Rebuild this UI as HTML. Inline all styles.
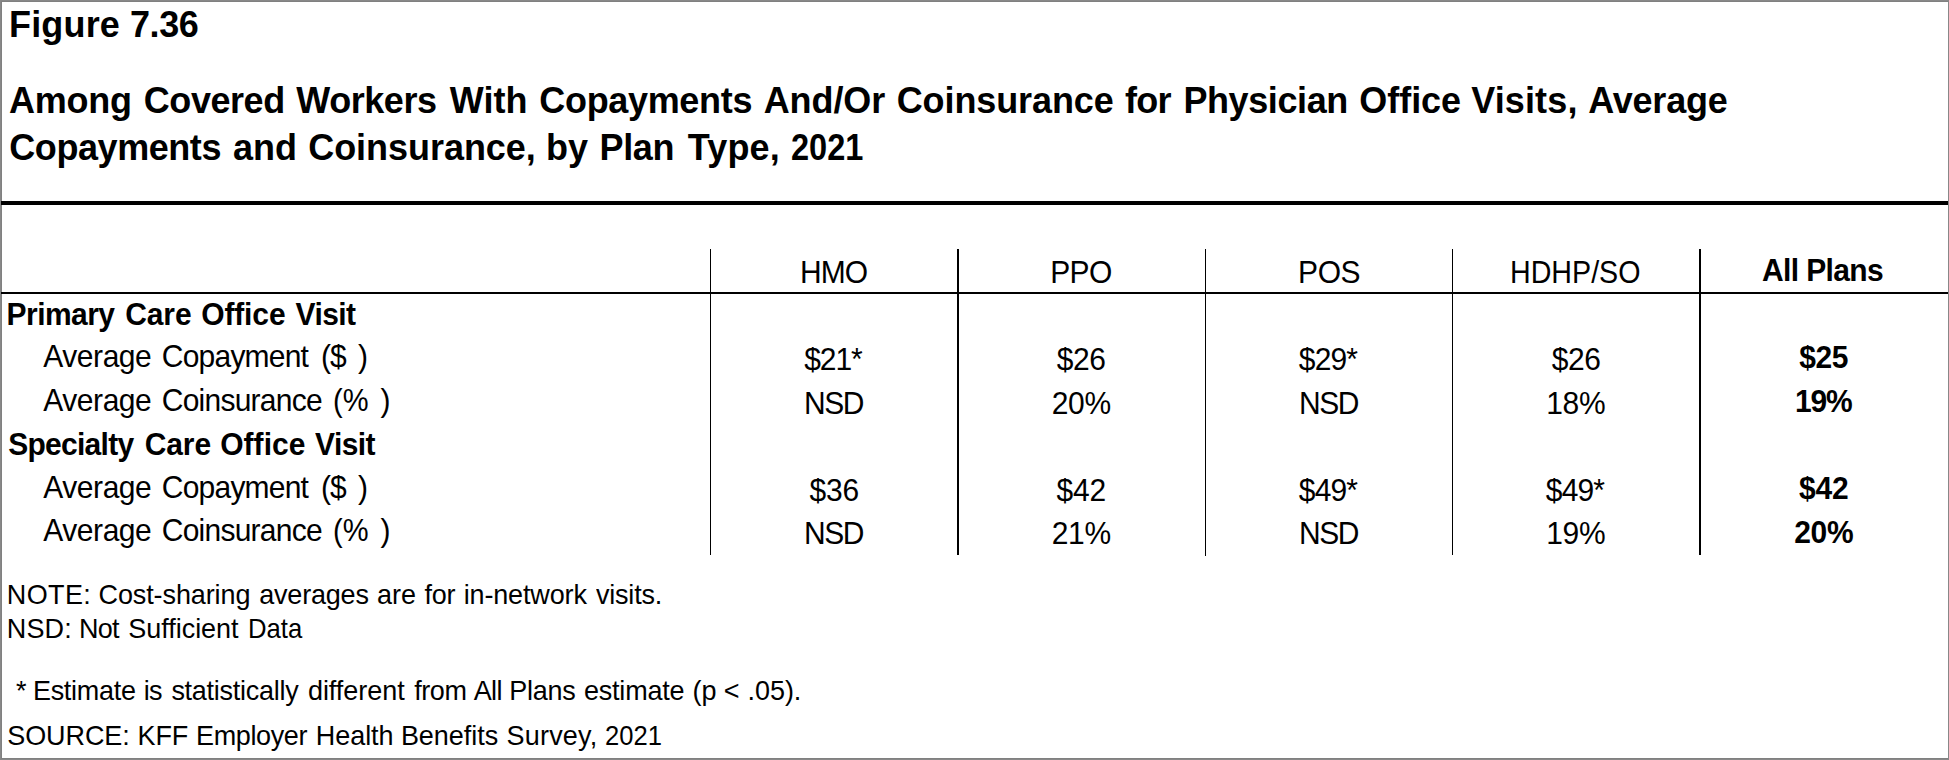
<!DOCTYPE html>
<html>
<head>
<meta charset="utf-8">
<title>Figure 7.36</title>
<style>
html,body{margin:0;padding:0;background:#fff;}
body{width:1949px;height:760px;position:relative;overflow:hidden;font-family:"Liberation Sans",sans-serif;color:#000;}
.frame{position:absolute;left:0;top:0;width:1949px;height:760px;box-sizing:border-box;border:1px solid #888888;}
.frame2{position:absolute;left:1px;top:1px;width:1947px;height:758px;box-sizing:border-box;border-style:solid;border-color:#808080;border-width:1px 0 1px 1px;}
.t{position:absolute;white-space:nowrap;line-height:1;}
.ln{position:absolute;background:#000;}
</style>
</head>
<body>
<div class="frame"></div>
<div class="frame2"></div>
<div class="t" style="font-size:36px;top:6.50px;left:9.05px;transform-origin:0 30.5px;letter-spacing:0.154px;font-weight:bold;transform:scaleY(1.05);">Figure</div>
<div class="t" style="font-size:36px;top:6.50px;left:130.00px;transform-origin:0 30.5px;letter-spacing:-0.415px;font-weight:bold;transform:scaleY(1.05);">7.36</div>
<div class="t" style="font-size:36px;top:82.50px;left:8.90px;transform-origin:0 30.5px;letter-spacing:-0.222px;font-weight:bold;transform:scaleY(1.05);">Among</div>
<div class="t" style="font-size:36px;top:82.50px;left:143.80px;transform-origin:0 30.5px;letter-spacing:-0.444px;font-weight:bold;transform:scaleY(1.05);">Covered</div>
<div class="t" style="font-size:36px;top:82.50px;left:296.30px;transform-origin:0 30.5px;letter-spacing:-0.447px;font-weight:bold;transform:scaleY(1.05);">Workers</div>
<div class="t" style="font-size:36px;top:82.50px;left:449.70px;transform-origin:0 30.5px;letter-spacing:0.083px;font-weight:bold;transform:scaleY(1.05);">With</div>
<div class="t" style="font-size:36px;top:82.50px;left:539.30px;transform-origin:0 30.5px;letter-spacing:-0.326px;font-weight:bold;transform:scaleY(1.05);">Copayments</div>
<div class="t" style="font-size:36px;top:82.50px;left:763.70px;transform-origin:0 30.5px;letter-spacing:-0.096px;font-weight:bold;transform:scaleY(1.05);">And/Or</div>
<div class="t" style="font-size:36px;top:82.50px;left:896.70px;transform-origin:0 30.5px;letter-spacing:-0.094px;font-weight:bold;transform:scaleY(1.05);">Coinsurance</div>
<div class="t" style="font-size:36px;top:82.50px;left:1125.10px;transform-origin:0 30.5px;letter-spacing:-0.839px;font-weight:bold;transform:scaleY(1.05);">for</div>
<div class="t" style="font-size:36px;top:82.50px;left:1183.40px;transform-origin:0 30.5px;letter-spacing:-0.399px;font-weight:bold;transform:scaleY(1.05);">Physician</div>
<div class="t" style="font-size:36px;top:82.50px;left:1359.30px;transform-origin:0 30.5px;letter-spacing:-0.040px;font-weight:bold;transform:scaleY(1.05);">Office</div>
<div class="t" style="font-size:36px;top:82.50px;left:1471.20px;transform-origin:0 30.5px;letter-spacing:0.134px;font-weight:bold;transform:scaleY(1.05);">Visits,</div>
<div class="t" style="font-size:36px;top:82.50px;left:1588.20px;transform-origin:0 30.5px;letter-spacing:-0.188px;font-weight:bold;transform:scaleY(1.05);">Average</div>
<div class="t" style="font-size:36px;top:129.50px;left:9.30px;transform-origin:0 30.5px;letter-spacing:-0.437px;font-weight:bold;transform:scaleY(1.05);">Copayments</div>
<div class="t" style="font-size:36px;top:129.50px;left:233.00px;transform-origin:0 30.5px;letter-spacing:0.044px;font-weight:bold;transform:scaleY(1.05);">and</div>
<div class="t" style="font-size:36px;top:129.50px;left:308.20px;transform-origin:0 30.5px;letter-spacing:-0.042px;font-weight:bold;transform:scaleY(1.05);">Coinsurance,</div>
<div class="t" style="font-size:36px;top:129.50px;left:546.10px;transform-origin:0 30.5px;letter-spacing:-0.090px;font-weight:bold;transform:scaleY(1.05);">by</div>
<div class="t" style="font-size:36px;top:129.50px;left:599.60px;transform-origin:0 30.5px;letter-spacing:-0.378px;font-weight:bold;transform:scaleY(1.05);">Plan</div>
<div class="t" style="font-size:36px;top:129.50px;left:687.80px;transform-origin:0 30.5px;letter-spacing:0.137px;font-weight:bold;transform:scaleY(1.05);">Type,</div>
<div class="t" style="font-size:36px;top:129.50px;left:791.20px;transform-origin:0 30.5px;font-weight:bold;transform:scale(0.9043,1.05);">2021</div>
<div class="t" style="font-size:30px;top:257.50px;left:799.90px;transform-origin:0 25.5px;letter-spacing:-0.878px;transform:scaleY(1.065);">HMO</div>
<div class="t" style="font-size:30px;top:257.50px;left:1050.20px;transform-origin:0 25.5px;letter-spacing:-0.660px;transform:scaleY(1.065);">PPO</div>
<div class="t" style="font-size:30px;top:257.50px;left:1298.10px;transform-origin:0 25.5px;letter-spacing:-0.422px;transform:scaleY(1.065);">POS</div>
<div class="t" style="font-size:30px;top:257.50px;left:1510.39px;transform-origin:0 25.5px;transform:scale(0.9546,1.065);">HDHP/SO</div>
<div class="t" style="font-size:30px;top:255.50px;left:1762.10px;transform-origin:0 25.5px;letter-spacing:-0.653px;font-weight:bold;transform:scaleY(1.065);">All Plans</div>
<div class="t" style="font-size:30px;top:299.50px;left:6.60px;transform-origin:0 25.5px;letter-spacing:-0.559px;font-weight:bold;transform:scaleY(1.065);">Primary</div>
<div class="t" style="font-size:30px;top:299.50px;left:125.20px;transform-origin:0 25.5px;letter-spacing:-0.108px;font-weight:bold;transform:scaleY(1.065);">Care</div>
<div class="t" style="font-size:30px;top:299.50px;left:201.20px;transform-origin:0 25.5px;letter-spacing:-0.127px;font-weight:bold;transform:scaleY(1.065);">Office</div>
<div class="t" style="font-size:30px;top:299.50px;left:295.50px;transform-origin:0 25.5px;letter-spacing:-0.556px;font-weight:bold;transform:scaleY(1.065);">Visit</div>
<div class="t" style="font-size:30px;top:429.50px;left:8.20px;transform-origin:0 25.5px;letter-spacing:-0.731px;font-weight:bold;transform:scaleY(1.065);">Specialty</div>
<div class="t" style="font-size:30px;top:429.50px;left:144.70px;transform-origin:0 25.5px;letter-spacing:-0.108px;font-weight:bold;transform:scaleY(1.065);">Care</div>
<div class="t" style="font-size:30px;top:429.50px;left:220.20px;transform-origin:0 25.5px;letter-spacing:0.053px;font-weight:bold;transform:scaleY(1.065);">Office</div>
<div class="t" style="font-size:30px;top:429.50px;left:315.00px;transform-origin:0 25.5px;letter-spacing:-0.556px;font-weight:bold;transform:scaleY(1.065);">Visit</div>
<div class="t" style="font-size:30px;top:341.50px;left:43.30px;transform-origin:0 25.5px;letter-spacing:-0.452px;transform:scaleY(1.065);">Average</div>
<div class="t" style="font-size:30px;top:341.50px;left:161.80px;transform-origin:0 25.5px;letter-spacing:-0.785px;transform:scaleY(1.065);">Copayment</div>
<div class="t" style="font-size:30px;top:341.50px;left:320.90px;transform-origin:0 25.5px;letter-spacing:-0.790px;transform:scaleY(1.065);">($</div>
<div class="t" style="font-size:30px;top:341.50px;left:358.00px;transform-origin:0 25.5px;transform:scaleY(1.065);">)</div>
<div class="t" style="font-size:30px;top:472.50px;left:43.30px;transform-origin:0 25.5px;letter-spacing:-0.452px;transform:scaleY(1.065);">Average</div>
<div class="t" style="font-size:30px;top:472.50px;left:161.80px;transform-origin:0 25.5px;letter-spacing:-0.785px;transform:scaleY(1.065);">Copayment</div>
<div class="t" style="font-size:30px;top:472.50px;left:320.90px;transform-origin:0 25.5px;letter-spacing:-0.790px;transform:scaleY(1.065);">($</div>
<div class="t" style="font-size:30px;top:472.50px;left:358.00px;transform-origin:0 25.5px;transform:scaleY(1.065);">)</div>
<div class="t" style="font-size:30px;top:385.50px;left:43.30px;transform-origin:0 25.5px;letter-spacing:-0.452px;transform:scaleY(1.065);">Average</div>
<div class="t" style="font-size:30px;top:385.50px;left:161.80px;transform-origin:0 25.5px;letter-spacing:-0.764px;transform:scaleY(1.065);">Coinsurance</div>
<div class="t" style="font-size:30px;top:385.50px;left:332.83px;transform-origin:0 25.5px;transform:scale(0.9688,1.065);">(%</div>
<div class="t" style="font-size:30px;top:385.50px;left:380.60px;transform-origin:0 25.5px;transform:scaleY(1.065);">)</div>
<div class="t" style="font-size:30px;top:515.50px;left:43.30px;transform-origin:0 25.5px;letter-spacing:-0.452px;transform:scaleY(1.065);">Average</div>
<div class="t" style="font-size:30px;top:515.50px;left:161.80px;transform-origin:0 25.5px;letter-spacing:-0.764px;transform:scaleY(1.065);">Coinsurance</div>
<div class="t" style="font-size:30px;top:515.50px;left:332.83px;transform-origin:0 25.5px;transform:scale(0.9688,1.065);">(%</div>
<div class="t" style="font-size:30px;top:515.50px;left:380.60px;transform-origin:0 25.5px;transform:scaleY(1.065);">)</div>
<div class="t" style="font-size:27px;top:581.50px;left:6.80px;transform-origin:0 22.5px;letter-spacing:0.375px;transform:scaleY(1.055);">NOTE:</div>
<div class="t" style="font-size:27px;top:581.50px;left:98.50px;transform-origin:0 22.5px;letter-spacing:-0.104px;transform:scaleY(1.055);">Cost-sharing</div>
<div class="t" style="font-size:27px;top:581.50px;left:259.20px;transform-origin:0 22.5px;letter-spacing:-0.196px;transform:scaleY(1.055);">averages</div>
<div class="t" style="font-size:27px;top:581.50px;left:377.10px;transform-origin:0 22.5px;letter-spacing:-0.054px;transform:scaleY(1.055);">are</div>
<div class="t" style="font-size:27px;top:581.50px;left:424.60px;transform-origin:0 22.5px;letter-spacing:-0.359px;transform:scaleY(1.055);">for</div>
<div class="t" style="font-size:27px;top:581.50px;left:463.70px;transform-origin:0 22.5px;letter-spacing:-0.149px;transform:scaleY(1.055);">in-network</div>
<div class="t" style="font-size:27px;top:581.50px;left:596.00px;transform-origin:0 22.5px;letter-spacing:-0.216px;transform:scaleY(1.055);">visits.</div>
<div class="t" style="font-size:27px;top:615.50px;left:6.80px;transform-origin:0 22.5px;letter-spacing:0.131px;transform:scaleY(1.055);">NSD:</div>
<div class="t" style="font-size:27px;top:615.50px;left:79.10px;transform-origin:0 22.5px;letter-spacing:-0.757px;transform:scaleY(1.055);">Not</div>
<div class="t" style="font-size:27px;top:615.50px;left:128.30px;transform-origin:0 22.5px;letter-spacing:-0.030px;transform:scaleY(1.055);">Sufficient</div>
<div class="t" style="font-size:27px;top:615.50px;left:247.50px;transform-origin:0 22.5px;transform:scale(0.9515,1.055);">Data</div>
<div class="t" style="font-size:27px;top:677.50px;left:16.00px;transform-origin:0 22.5px;transform:scaleY(1.055);">*</div>
<div class="t" style="font-size:27px;top:677.50px;left:32.90px;transform-origin:0 22.5px;letter-spacing:-0.274px;transform:scaleY(1.055);">Estimate</div>
<div class="t" style="font-size:27px;top:677.50px;left:143.70px;transform-origin:0 22.5px;letter-spacing:-0.599px;transform:scaleY(1.055);">is</div>
<div class="t" style="font-size:27px;top:677.50px;left:171.40px;transform-origin:0 22.5px;letter-spacing:-0.269px;transform:scaleY(1.055);">statistically</div>
<div class="t" style="font-size:27px;top:677.50px;left:307.90px;transform-origin:0 22.5px;letter-spacing:-0.021px;transform:scaleY(1.055);">different</div>
<div class="t" style="font-size:27px;top:677.50px;left:414.20px;transform-origin:0 22.5px;letter-spacing:-0.403px;transform:scaleY(1.055);">from</div>
<div class="t" style="font-size:27px;top:677.50px;left:473.70px;transform-origin:0 22.5px;letter-spacing:-0.654px;transform:scaleY(1.055);">All</div>
<div class="t" style="font-size:27px;top:677.50px;left:509.20px;transform-origin:0 22.5px;letter-spacing:-0.235px;transform:scaleY(1.055);">Plans</div>
<div class="t" style="font-size:27px;top:677.50px;left:584.00px;transform-origin:0 22.5px;letter-spacing:-0.218px;transform:scaleY(1.055);">estimate</div>
<div class="t" style="font-size:27px;top:677.50px;left:692.60px;transform-origin:0 22.5px;letter-spacing:-0.091px;transform:scaleY(1.055);">(p</div>
<div class="t" style="font-size:27px;top:677.50px;left:723.70px;transform-origin:0 22.5px;transform:scaleY(1.055);">&lt;</div>
<div class="t" style="font-size:27px;top:677.50px;left:747.60px;transform-origin:0 22.5px;letter-spacing:-0.081px;transform:scaleY(1.055);">.05).</div>
<div class="t" style="font-size:27px;top:722.50px;left:7.20px;transform-origin:0 22.5px;letter-spacing:-0.069px;transform:scaleY(1.055);">SOURCE:</div>
<div class="t" style="font-size:27px;top:722.50px;left:137.60px;transform-origin:0 22.5px;letter-spacing:-0.151px;transform:scaleY(1.055);">KFF</div>
<div class="t" style="font-size:27px;top:722.50px;left:196.10px;transform-origin:0 22.5px;letter-spacing:-0.392px;transform:scaleY(1.055);">Employer</div>
<div class="t" style="font-size:27px;top:722.50px;left:315.70px;transform-origin:0 22.5px;letter-spacing:-0.026px;transform:scaleY(1.055);">Health</div>
<div class="t" style="font-size:27px;top:722.50px;left:400.90px;transform-origin:0 22.5px;letter-spacing:-0.037px;transform:scaleY(1.055);">Benefits</div>
<div class="t" style="font-size:27px;top:722.50px;left:506.50px;transform-origin:0 22.5px;letter-spacing:0.212px;transform:scaleY(1.055);">Survey,</div>
<div class="t" style="font-size:27px;top:722.50px;left:605.15px;transform-origin:0 22.5px;transform:scale(0.9475,1.055);">2021</div>
<div class="t" style="font-size:30px;top:344.50px;left:804.20px;transform-origin:0 25.5px;letter-spacing:-1.085px;transform:scaleY(1.065);">$21*</div>
<div class="t" style="font-size:30px;top:344.50px;left:1056.75px;transform-origin:0 25.5px;letter-spacing:-0.435px;transform:scaleY(1.065);">$26</div>
<div class="t" style="font-size:30px;top:344.50px;left:1298.85px;transform-origin:0 25.5px;letter-spacing:-0.851px;transform:scaleY(1.065);">$29*</div>
<div class="t" style="font-size:30px;top:344.50px;left:1551.75px;transform-origin:0 25.5px;letter-spacing:-0.435px;transform:scaleY(1.065);">$26</div>
<div class="t" style="font-size:30px;top:342.50px;left:1799.20px;transform-origin:0 25.5px;letter-spacing:-0.385px;font-weight:bold;transform:scaleY(1.065);">$25</div>
<div class="t" style="font-size:30px;top:388.50px;left:803.95px;transform-origin:0 25.5px;letter-spacing:-1.437px;transform:scaleY(1.065);">NSD</div>
<div class="t" style="font-size:30px;top:388.50px;left:1051.72px;transform-origin:0 25.5px;letter-spacing:-0.300px;transform:scaleY(1.065);">20%</div>
<div class="t" style="font-size:30px;top:388.50px;left:1298.95px;transform-origin:0 25.5px;letter-spacing:-1.437px;transform:scaleY(1.065);">NSD</div>
<div class="t" style="font-size:30px;top:388.50px;left:1546.22px;transform-origin:0 25.5px;letter-spacing:-0.300px;transform:scaleY(1.065);">18%</div>
<div class="t" style="font-size:30px;top:386.50px;left:1795.10px;transform-origin:0 25.5px;letter-spacing:-1.185px;font-weight:bold;transform:scaleY(1.065);">19%</div>
<div class="t" style="font-size:30px;top:475.50px;left:809.62px;transform-origin:0 25.5px;letter-spacing:-0.300px;transform:scaleY(1.065);">$36</div>
<div class="t" style="font-size:30px;top:475.50px;left:1056.62px;transform-origin:0 25.5px;letter-spacing:-0.300px;transform:scaleY(1.065);">$42</div>
<div class="t" style="font-size:30px;top:475.50px;left:1298.85px;transform-origin:0 25.5px;letter-spacing:-0.851px;transform:scaleY(1.065);">$49*</div>
<div class="t" style="font-size:30px;top:475.50px;left:1545.85px;transform-origin:0 25.5px;letter-spacing:-0.851px;transform:scaleY(1.065);">$49*</div>
<div class="t" style="font-size:30px;top:473.50px;left:1799.12px;transform-origin:0 25.5px;letter-spacing:-0.300px;font-weight:bold;transform:scaleY(1.065);">$42</div>
<div class="t" style="font-size:30px;top:518.50px;left:803.95px;transform-origin:0 25.5px;letter-spacing:-1.437px;transform:scaleY(1.065);">NSD</div>
<div class="t" style="font-size:30px;top:518.50px;left:1051.72px;transform-origin:0 25.5px;letter-spacing:-0.300px;transform:scaleY(1.065);">21%</div>
<div class="t" style="font-size:30px;top:518.50px;left:1298.95px;transform-origin:0 25.5px;letter-spacing:-1.437px;transform:scaleY(1.065);">NSD</div>
<div class="t" style="font-size:30px;top:518.50px;left:1546.22px;transform-origin:0 25.5px;letter-spacing:-0.300px;transform:scaleY(1.065);">19%</div>
<div class="t" style="font-size:30px;top:517.50px;left:1794.22px;transform-origin:0 25.5px;letter-spacing:-0.300px;font-weight:bold;transform:scaleY(1.065);">20%</div>
<div class="ln" style="left:1px;top:201px;width:1947px;height:4px;"></div>
<div class="ln" style="left:1px;top:292px;width:1947px;height:2px;"></div>
<div class="ln" style="left:710px;top:249px;width:1px;height:306px;"></div>
<div class="ln" style="left:957px;top:249px;width:2px;height:306px;"></div>
<div class="ln" style="left:1205px;top:249px;width:1px;height:307px;"></div>
<div class="ln" style="left:1452px;top:249px;width:1px;height:306px;"></div>
<div class="ln" style="left:1699px;top:249px;width:2px;height:306px;"></div>
</body>
</html>
